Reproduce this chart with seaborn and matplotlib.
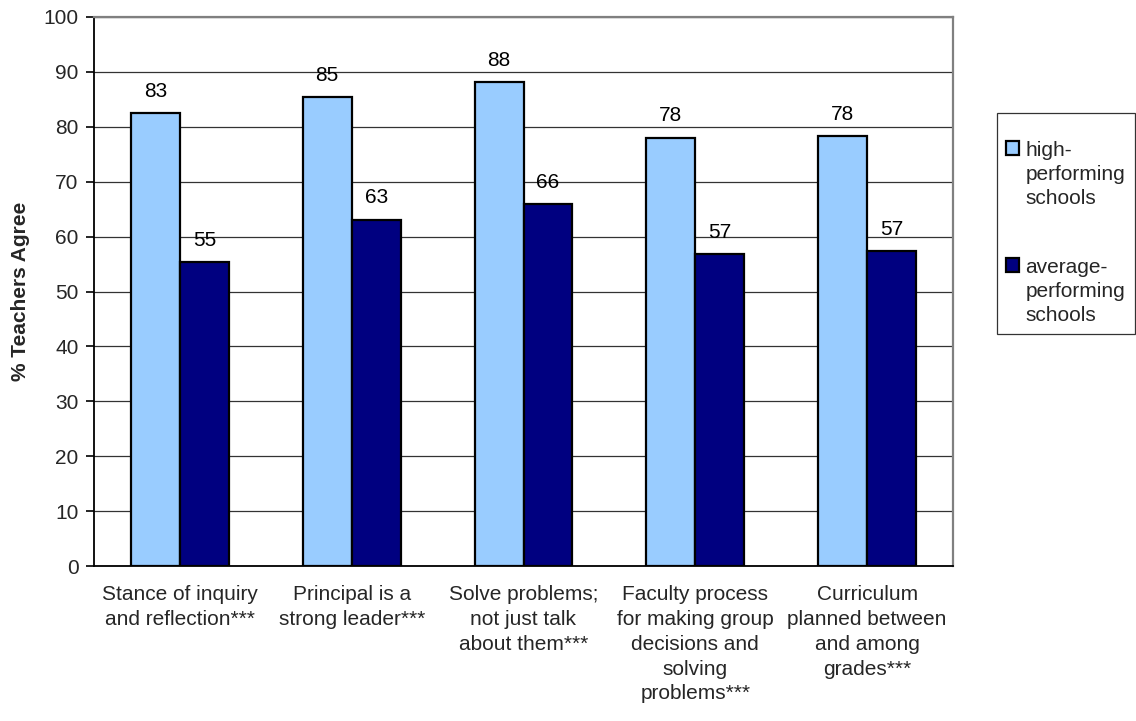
import matplotlib
matplotlib.use("Agg")
import matplotlib.pyplot as plt
import seaborn as sns
import pandas as pd
import numpy as np

categories = [
    "Stance of inquiry\nand reflection***",
    "Principal is a\nstrong leader***",
    "Solve problems;\nnot just talk\nabout them***",
    "Faculty process\nfor making group\ndecisions and\nsolving\nproblems***",
    "Curriculum\nplanned between\nand among\ngrades***",
]
series_names = ["high-\nperforming\nschools", "average-\nperforming\nschools"]
high_values = [82.5, 85.4, 88.1, 78.0, 78.3]
avg_values = [55.3, 63.1, 65.9, 56.8, 57.3]
high_labels = ["83", "85", "88", "78", "78"]
avg_labels = ["55", "63", "66", "57", "57"]
yticks = [0, 10, 20, 30, 40, 50, 60, 70, 80, 90, 100]

df = pd.DataFrame({
    "category": categories * 2,
    "series": [series_names[0]] * 5 + [series_names[1]] * 5,
    "value": high_values + avg_values,
})

sns.set_style("white")
plt.rcParams["font.family"] = ["Liberation Sans", "DejaVu Sans"]
FS = 15

fig = plt.figure(figsize=(11.36, 7.21), dpi=100)
ax = fig.add_axes([94 / 1136, 1 - 566 / 721, (953 - 94) / 1136, (566 - 17) / 721])

palette = {series_names[0]: "#99CCFF", series_names[1]: "#000080"}
sns.barplot(data=df, x="category", y="value", hue="series", palette=palette,
            width=0.57, edgecolor="black", linewidth=1.6, saturation=1,
            ax=ax, zorder=3, legend=True)

for cont, labs in zip(ax.containers, [high_labels, avg_labels]):
    ax.bar_label(cont, labels=labs, padding=9, fontsize=FS, color="black")

ax.set_ylim(0, 100)
ax.set_xlim(-0.5, len(categories) - 0.5)
ax.set_yticks(yticks)
ax.set_yticklabels([str(t) for t in yticks], fontsize=FS)
ax.yaxis.grid(True, color="#333333", linewidth=0.9, zorder=0)
ax.set_axisbelow(True)
ax.set_xlabel("")
ax.set_ylabel("% Teachers Agree", fontsize=FS, fontweight="bold", labelpad=10)

ax.set_xticks(range(len(categories)))
ax.set_xticklabels(categories, fontsize=FS, linespacing=1.38)
ax.tick_params(axis="x", which="major", length=0, pad=14)
ax.set_xticks(np.arange(-0.5, len(categories), 1.0), minor=True)
ax.tick_params(axis="x", which="minor", length=6, width=1.2, color="black", direction="out")
ax.tick_params(axis="y", which="major", length=6, width=1.2, color="black", direction="out", left=True, pad=5)

for s in ["left", "bottom"]:
    ax.spines[s].set_color("black")
    ax.spines[s].set_linewidth(1.3)
for s in ["top", "right"]:
    ax.spines[s].set_color("#808080")
    ax.spines[s].set_linewidth(1.6)
    ax.spines[s].set_visible(True)

handles, labels = ax.get_legend_handles_labels()
ax.legend_.remove()
leg = fig.legend(handles, labels, loc="upper left",
                 bbox_to_anchor=(997 / 1136, 1 - 113 / 721),
                 bbox_transform=fig.transFigure, frameon=True, fancybox=False,
                 edgecolor="black", fontsize=FS, handlelength=0.62, handleheight=0.62,
                 handletextpad=0.3, borderpad=0.45, labelspacing=2.4,
                 borderaxespad=0, title=" ", title_fontsize=1)
leg.get_frame().set_linewidth(0.9)
leg._legend_box.sep = 13
for t in leg.get_texts():
    t.set_linespacing(1.32)
for col in leg._legend_handle_box.get_children():
    for item in col.get_children():
        item.align = "top"

fig.savefig("out.png", dpi=100)
